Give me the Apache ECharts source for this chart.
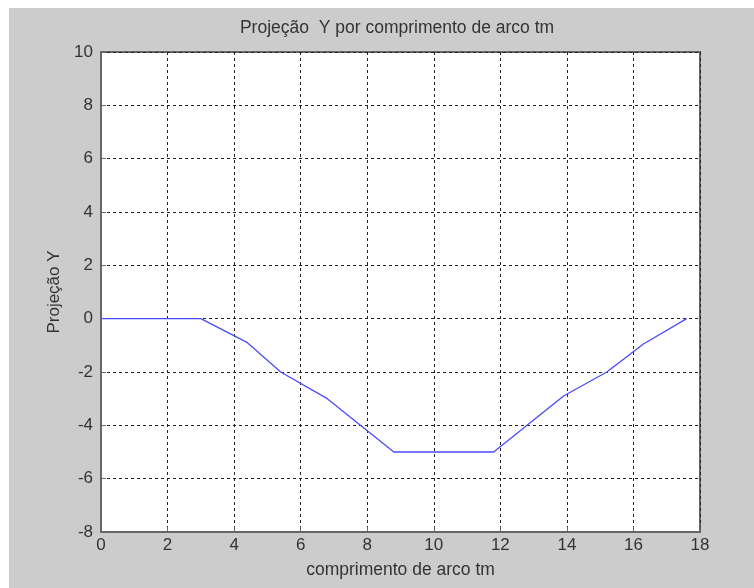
<!DOCTYPE html>
<html>
<head>
<meta charset="utf-8">
<script src="https://cdn.jsdelivr.net/npm/echarts@6/dist/echarts.min.js"></script>
<style>
html,body{margin:0;padding:0;background:#fff;}
#c{width:754px;height:588px;}
</style>
</head>
<body>
<div id="c"></div>
<script>
var xValues = [0, 3.0, 4.4, 5.4, 6.8, 8.8, 11.8, 13.9, 15.2, 16.3, 17.6];
var yValues = [0, 0, -0.9, -2.0, -3.0, -5.0, -5.0, -2.9, -2.0, -0.95, 0];
var xTicks = [0, 2, 4, 6, 8, 10, 12, 14, 16, 18];
var yTicks = [-8, -6, -4, -2, 0, 2, 4, 6, 8, 10];

var points = xValues.map(function (x, i) { return [x, yValues[i]]; });
var font = '"Liberation Sans", Arial, sans-serif';

var chart = echarts.init(document.getElementById('c'), null, {renderer: 'canvas'});
chart.setOption({
  animation: false,
  backgroundColor: '#ffffff',
  graphic: [{
    type: 'rect', left: 9, top: 8, z: -10,
    shape: {width: 745, height: 580},
    style: {fill: '#cccccc'}
  }],
  title: {
    text: 'Projeção  Y por comprimento de arco tm',
    left: 392, top: 14, textAlign: 'center',
    textStyle: {fontFamily: font, fontSize: 17.5, fontWeight: 'normal', color: '#333'}
  },
  grid: {
    left: 101, right: 54, top: 52, bottom: 56,
    show: true, backgroundColor: '#ffffff', borderColor: '#666', borderWidth: 2
  },
  xAxis: {
    type: 'value', min: xTicks[0], max: xTicks[xTicks.length - 1], interval: 2,
    name: 'comprimento de arco tm', nameLocation: 'middle', nameGap: 29,
    nameTextStyle: {fontFamily: font, fontSize: 17.5, color: '#333'},
    axisLine: {show: true, onZero: false, lineStyle: {color: '#666', width: 2}},
    axisTick: {show: true, inside: true, length: 5, lineStyle: {color: '#666'}},
    axisLabel: {fontFamily: font, fontSize: 17, color: '#333', margin: 5},
    splitLine: {show: true, lineStyle: {color: '#222', type: [3, 3], width: 1}}
  },
  yAxis: {
    type: 'value', min: yTicks[0], max: yTicks[yTicks.length - 1], interval: 2,
    name: 'Projeção Y', nameLocation: 'middle', nameGap: 37, nameRotate: 90,
    nameTextStyle: {fontFamily: font, fontSize: 17, color: '#333'},
    axisLine: {show: true, onZero: false, lineStyle: {color: '#666', width: 2}},
    axisTick: {show: true, inside: true, length: 5, lineStyle: {color: '#666'}},
    axisLabel: {fontFamily: font, fontSize: 17, color: '#333', margin: 8},
    splitLine: {show: true, lineStyle: {color: '#222', type: [3, 3], width: 1}}
  },
  series: [{
    type: 'line', data: points, showSymbol: false, symbol: 'none',
    lineStyle: {color: '#4a4aff', width: 1.3}
  }]
});
</script>
</body>
</html>
